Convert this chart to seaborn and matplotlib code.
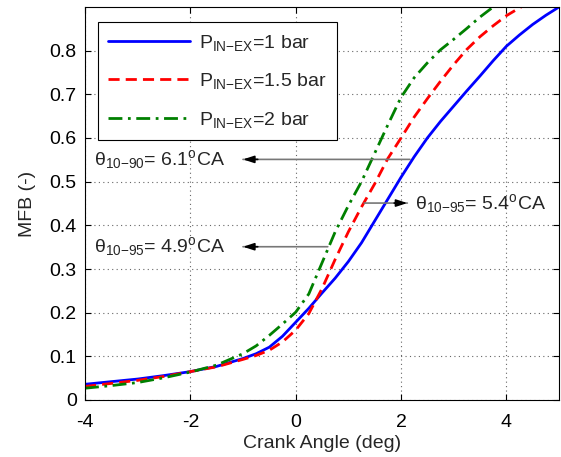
import matplotlib
matplotlib.use("Agg")
import matplotlib.pyplot as plt
import seaborn as sns
import pandas as pd

# Crank angle (deg) and mass fraction burned for each inlet-exhaust pressure difference
angle_1bar = [-4, -3.5, -3, -2.5, -2, -1.5, -1, -0.75, -0.5, -0.25, 0, 0.25, 0.5, 0.75, 1,
              1.25, 1.5, 1.75, 2, 2.25, 2.5, 2.75, 3, 3.25, 3.5, 3.75, 4, 4.25, 4.5, 4.75, 5]
mfb_1bar = [0.036, 0.042, 0.048, 0.056, 0.065, 0.077, 0.095, 0.106, 0.121, 0.146, 0.178, 0.210,
            0.245, 0.279, 0.317, 0.36, 0.41, 0.46, 0.51, 0.557, 0.600, 0.638, 0.673, 0.708,
            0.742, 0.777, 0.810, 0.836, 0.860, 0.881, 0.900]

angle_15bar = [-4, -3.5, -3, -2.5, -2, -1.5, -1, -0.75, -0.5, -0.25, 0, 0.25, 0.5, 0.75, 1,
               1.25, 1.5, 1.75, 2, 2.25, 2.5, 2.75, 3, 3.25, 3.5, 3.75, 4, 4.25, 4.5]
mfb_15bar = [0.031, 0.038, 0.045, 0.054, 0.065, 0.076, 0.093, 0.102, 0.114, 0.133, 0.160, 0.198,
             0.255, 0.322, 0.385, 0.442, 0.495, 0.553, 0.600, 0.648, 0.690, 0.730, 0.768,
             0.803, 0.832, 0.857, 0.880, 0.898, 0.915]

angle_2bar = [-4, -3.5, -3, -2.5, -2, -1.5, -1, -0.75, -0.5, -0.25, 0, 0.25, 0.5, 0.75, 1,
              1.25, 1.5, 1.75, 2, 2.25, 2.5, 2.75, 3, 3.25, 3.5, 3.75, 4]
mfb_2bar = [0.027, 0.033, 0.040, 0.051, 0.064, 0.080, 0.106, 0.124, 0.148, 0.174, 0.201, 0.243,
            0.314, 0.385, 0.445, 0.500, 0.565, 0.630, 0.693, 0.738, 0.772, 0.802, 0.826,
            0.851, 0.877, 0.900, 0.920]

series_labels = [r"P$\mathregular{_{IN{-}EX}}$=1 bar",
                 r"P$\mathregular{_{IN{-}EX}}$=1.5 bar",
                 r"P$\mathregular{_{IN{-}EX}}$=2 bar"]

x_ticks = [-4, -2, 0, 2, 4]
y_ticks = [0, 0.1, 0.2, 0.3, 0.4, 0.5, 0.6, 0.7, 0.8]

sns.set_theme(style="ticks")
plt.rcParams["font.family"] = ["Liberation Sans", "DejaVu Sans"]
plt.rcParams["mathtext.fontset"] = "custom"
plt.rcParams["mathtext.rm"] = "Liberation Sans"
plt.rcParams["mathtext.it"] = "Liberation Sans"
plt.rcParams["mathtext.sf"] = "Liberation Sans"

FS = 14

frames = []
for ang, mfb, lab in zip([angle_1bar, angle_15bar, angle_2bar],
                         [mfb_1bar, mfb_15bar, mfb_2bar], series_labels):
    frames.append(pd.DataFrame({"angle": ang, "mfb": mfb, "case": lab}))
df = pd.concat(frames, ignore_index=True)

fig = plt.figure(figsize=(5.61, 4.57), dpi=100)
ax = fig.add_axes([85 / 561, 57 / 457, 474 / 561, 393 / 457])

colors = ["#0000ff", "#ff0000", "#008000"]
dashes = ["", (4, 2.2), (5, 2, 1, 2)]
for lab, col, dsh in zip(series_labels, colors, dashes):
    sub = df[df["case"] == lab]
    sns.lineplot(data=sub, x="angle", y="mfb", ax=ax, color=col, lw=2,
                 label=lab, sort=True, estimator=None)
    if dsh:
        ax.lines[-1].set_dashes(dsh)

ax.set_xlim(-4, 5)
ax.set_ylim(0, 0.9)
ax.set_xticks(x_ticks)
ax.set_yticks(y_ticks)
ax.set_xticklabels([str(t) for t in x_ticks])
ax.set_yticklabels(["0"] + [f"{t:.1f}" for t in y_ticks[1:]])
ax.tick_params(direction="in", length=4, width=0.8, top=True, right=True,
               labelsize=FS, colors="black")
ax.tick_params(axis="x", pad=10)
ax.tick_params(axis="y", pad=6)
ax.grid(True, linestyle=(0, (1, 3)), color="#666666", lw=0.8)
for sp in ax.spines.values():
    sp.set_color("black")
    sp.set_linewidth(0.8)

ax.set_xlabel("Crank Angle (deg)", fontsize=FS, labelpad=3)
ax.set_ylabel("MFB (-)", fontsize=FS, labelpad=10)

leg = ax.legend(loc="upper left", bbox_to_anchor=(0.027, 0.962), borderaxespad=0,
                fontsize=FS, handlelength=4.2, handletextpad=0.45, borderpad=0.55,
                labelspacing=0.95, fancybox=False, framealpha=1, edgecolor="black")
leg.get_frame().set_linewidth(0.8)


def arrow(x_tail, x_head, y, head_len):
    ax.annotate("", xy=(x_head, y), xytext=(x_tail, y),
                arrowprops=dict(arrowstyle="-", color="#777777", lw=1.2,
                                shrinkA=0, shrinkB=0))
    ax.annotate("", xy=(x_head, y), xytext=(x_head + head_len, y),
                arrowprops=dict(arrowstyle="-|>,head_length=0.55,head_width=0.18",
                                color="black", lw=1.2, shrinkA=0, shrinkB=0))


arrow(2.17, -1.00, 0.551, 0.28)
arrow(1.30, 2.12, 0.451, -0.25)
arrow(0.61, -1.00, 0.351, 0.28)

ax.text(-3.82, 0.551, r"$\mathregular{\theta_{10{-}90}}$= 6.1$\mathregular{^o}$CA",
        fontsize=FS, va="center", ha="left")
ax.text(2.27, 0.451, r"$\mathregular{\theta_{10{-}95}}$= 5.4$\mathregular{^o}$CA",
        fontsize=FS, va="center", ha="left")
ax.text(-3.82, 0.351, r"$\mathregular{\theta_{10{-}95}}$= 4.9$\mathregular{^o}$CA",
        fontsize=FS, va="center", ha="left")

fig.savefig("out.png", dpi=100)
